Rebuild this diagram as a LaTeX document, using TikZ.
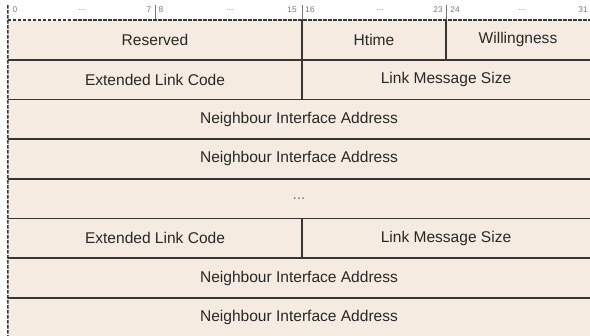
\documentclass[tikz,border=0pt]{standalone}
\usepackage{fontspec}
\setmainfont{Liberation Sans}
\definecolor{cellfill}{RGB}{245,235,225}
\definecolor{rulec}{RGB}{55,55,55}
\definecolor{textc}{RGB}{40,40,40}
\definecolor{bitc}{RGB}{120,120,120}
\begin{document}
\begin{tikzpicture}[x=1bp,y=-1bp,
  field/.style={fill=cellfill, inner sep=0pt, outer sep=0pt, minimum height=39.7bp,
    text=textc, font=\fontsize{15.6}{18}\selectfont},
  bitno/.style={inner sep=0pt, text=bitc, font=\fontsize{8.3}{9}\selectfont},
  tick/.style={draw=bitc, line width=0.8bp},
  sep/.style={draw=rulec, line width=1.6bp},
  border/.style={draw=rulec, line width=1.5bp, dash pattern=on 3.5bp off 1.5bp}]
\useasboundingbox (0,0) rectangle (590,335);
\clip (0,0) rectangle (590,335);

% bit ruler
\node[bitno] (b0)  at (15,10)  {0};
\node[bitno] (d1)  at (82,10)  {...};
\node[bitno] (b7)  at (149,10) {7};
\node[bitno] (b8)  at (161,10) {8};
\node[bitno] (d2)  at (230,10) {...};
\node[bitno] (b15) at (292,10) {15};
\node[bitno] (b16) at (310,10) {16};
\node[bitno] (d3)  at (380,10) {...};
\node[bitno] (b23) at (438,10) {23};
\node[bitno] (b24) at (455,10) {24};
\node[bitno] (d4)  at (522,10) {...};
\node[bitno] (b31) at (583,10) {31};

% fields, row by row
\node[field, minimum width=294bp] (res)   at (155,39.85)  {Reserved};
\node[field, minimum width=144bp] (htime) at (374,39.85)  {Htime};
\node[field, minimum width=144bp] (will)  at (518,39.85)  {Willingness};
\node[field, minimum width=294bp] (elc1)  at (155,79.55)  {Extended Link Code};
\node[field, minimum width=288bp] (lms1)  at (446,79.55)  {Link Message Size};
\node[field, minimum width=582bp] (nia1)  at (299,119.25) {Neighbour Interface Address};
\node[field, minimum width=582bp] (nia2)  at (299,158.95) {Neighbour Interface Address};
\node[field, minimum width=582bp, text=bitc] (gap) at (299,198.65) {...};
\node[field, minimum width=294bp] (elc2)  at (155,238.35) {Extended Link Code};
\node[field, minimum width=288bp] (lms2)  at (446,238.35) {Link Message Size};
\node[field, minimum width=582bp] (nia3)  at (299,278.05) {Neighbour Interface Address};
\node[field, minimum width=582bp] (nia4)  at (299,317.75) {Neighbour Interface Address};

% ruler ticks
\coordinate (t0)  at (res.north west |- 0,5);
\coordinate (t8)  at (155,5);
\coordinate (t8b) at (155,20);
\coordinate (t16) at (res.north east |- 0,5);
\coordinate (t24) at (htime.north east |- 0,5);
\draw[tick] (t8)  -- (t8b);
\draw[tick] (t16) -- (res.north east);
\draw[tick] (t24) -- (htime.north east);

% row separators
\draw[sep] (res.south west)  -- (will.south east);
\draw[sep] (elc1.south west) -- (lms1.south east);
\draw[sep] (nia1.south west) -- (nia1.south east);
\draw[sep] (nia2.south west) -- (nia2.south east);
\draw[sep] (gap.south west)  -- (gap.south east);
\draw[sep] (elc2.south west) -- (lms2.south east);
\draw[sep] (nia3.south west) -- (nia3.south east);

% field dividers
\draw[sep] (res.north east)   -- (res.south east);
\draw[sep] (htime.north east) -- (htime.south east);
\draw[sep] (elc1.north east)  -- (elc1.south east);
\draw[sep] (elc2.north east)  -- (elc2.south east);

% open outer edges
\draw[border] (res.north west) -- (will.north east);
\draw[border] (t0) -- (nia4.south west);
\end{tikzpicture}
\end{document}
